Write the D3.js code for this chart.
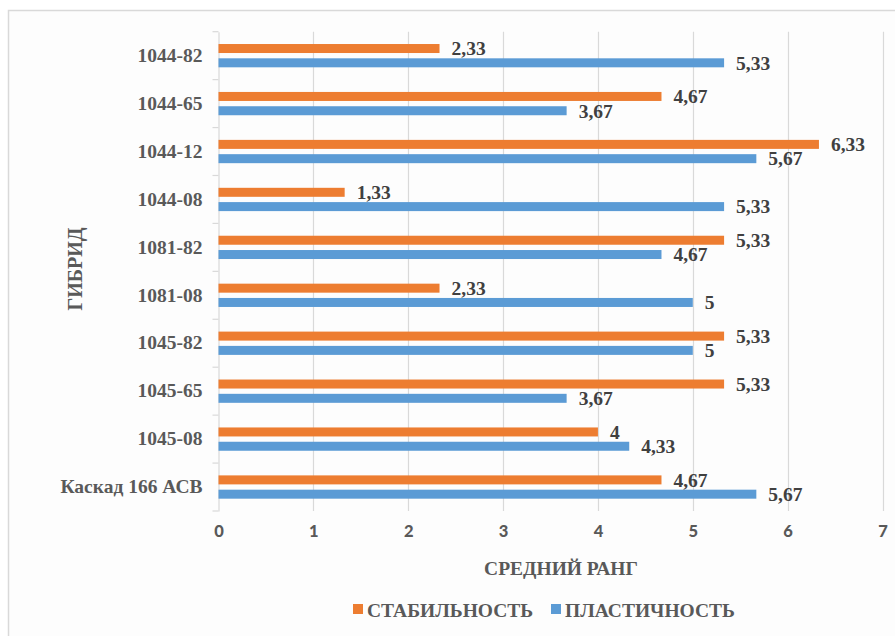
<!DOCTYPE html>
<html>
<head>
<meta charset="utf-8">
<script src="https://cdn.jsdelivr.net/npm/d3@7"></script>
<style>
  html, body { margin: 0; padding: 0; background: #ffffff; }
  svg { display: block; }
</style>
</head>
<body>
<svg id="chart" width="895" height="636"></svg>
<script>
// Hybrids, listed from top to bottom
const hybrids = ["1044-82", "1044-65", "1044-12", "1044-08", "1081-82", "1081-08", "1045-82", "1045-65", "1045-08", "Каскад 166 АСВ"];
// Mean rank per hybrid
const stability  = [2.33, 4.67, 6.33, 1.33, 5.33, 2.33, 5.33, 5.33, 4, 4.67];
const plasticity = [5.33, 3.67, 5.67, 5.33, 4.67, 5, 5, 3.67, 4.33, 5.67];
const seriesNames = ["СТАБИЛЬНОСТЬ", "ПЛАСТИЧНОСТЬ"];
const xTicks = [0, 1, 2, 3, 4, 5, 6, 7];

const colors = { "СТАБИЛЬНОСТЬ": "#ED7D31", "ПЛАСТИЧНОСТЬ": "#5B9BD5" };
const serif = "'Liberation Serif', 'Times New Roman', serif";
const sans = "Lato, 'Open Sans', sans-serif";

const rows = hybrids.map((h, i) => ({ hybrid: h, values: [
  { key: seriesNames[0], value: stability[i] },
  { key: seriesNames[1], value: plasticity[i] }
]}));

const svg = d3.select("#chart");

// chart frame
svg.append("rect")
  .attr("x", 8.5).attr("y", 10.5)
  .attr("width", 900).attr("height", 640)
  .attr("fill", "#fdfdfd")
  .attr("stroke", "#d9d9d9")
  .attr("stroke-width", 1.5);

const plot = { left: 218.5, right: 882.5, top: 31.7, bottom: 511 };

const x = d3.scaleLinear().domain([0, 7]).range([plot.left, plot.right]);
const y = d3.scaleBand().domain(hybrids).range([plot.top, plot.bottom]).padding(0);
const bw = y.bandwidth();
const ySeries = d3.scaleBand().domain(seriesNames)
  .range([bw * 0.257, bw * 0.743]).paddingInner(0.37).paddingOuter(0);

// vertical gridlines
svg.append("g")
  .selectAll("line")
  .data(xTicks.filter(t => t > 0))
  .join("line")
  .attr("x1", d => Math.round(x(d)) + 0.5)
  .attr("x2", d => Math.round(x(d)) + 0.5)
  .attr("y1", plot.top).attr("y2", plot.bottom)
  .attr("stroke", "#d9d9d9").attr("stroke-width", 1.2);

// x axis tick labels
const xAxis = d3.axisBottom(x).tickValues(xTicks).tickSize(0).tickPadding(14).tickFormat(d3.format("d"));
const gx = svg.append("g").attr("transform", `translate(0,${plot.bottom})`).call(xAxis);
gx.select(".domain").remove();
gx.selectAll("text")
  .attr("font-family", sans)
  .attr("font-weight", 900)
  .attr("font-size", 16.5)
  .attr("fill", "#595959");

// category axis
const yAxis = d3.axisLeft(y).tickSize(0).tickPadding(16);
const gy = svg.append("g").attr("transform", `translate(${plot.left},0)`).call(yAxis);
gy.select(".domain").attr("stroke", "#d9d9d9").attr("stroke-width", 1.2);
gy.selectAll("text")
  .attr("font-family", serif)
  .attr("font-weight", "bold")
  .attr("font-size", 19.5)
  .attr("fill", "#595959");

// category boundary ticks
const boundaries = hybrids.map(h => y(h)).concat([plot.bottom]);
svg.append("g")
  .selectAll("line")
  .data(boundaries)
  .join("line")
  .attr("x1", plot.left - 6).attr("x2", plot.left)
  .attr("y1", d => d).attr("y2", d => d)
  .attr("stroke", "#d9d9d9").attr("stroke-width", 1.2);

// bars and value labels
const fmt = v => (Number.isInteger(v) ? String(v) : v.toFixed(2).replace(".", ","));
const groups = svg.append("g")
  .selectAll("g")
  .data(rows)
  .join("g")
  .attr("transform", d => `translate(0,${y(d.hybrid)})`);

groups.selectAll("rect")
  .data(d => d.values)
  .join("rect")
  .attr("x", x(0))
  .attr("y", d => ySeries(d.key))
  .attr("width", d => x(d.value) - x(0))
  .attr("height", ySeries.bandwidth())
  .attr("fill", d => colors[d.key]);

groups.selectAll("text")
  .data(d => d.values)
  .join("text")
  .attr("x", d => x(d.value) + 12)
  .attr("y", d => ySeries(d.key) + ySeries.bandwidth() / 2)
  .attr("dy", "0.35em")
  .attr("font-family", serif)
  .attr("font-weight", "bold")
  .attr("font-size", 19.5)
  .attr("fill", "#404040")
  .text(d => fmt(d.value));

// axis titles
svg.append("text")
  .attr("x", 561).attr("y", 574.5)
  .attr("text-anchor", "middle")
  .attr("font-family", serif).attr("font-weight", "bold").attr("font-size", 19.5)
  .attr("fill", "#595959")
  .text("СРЕДНИЙ РАНГ");

svg.append("text")
  .attr("transform", `translate(82,269) rotate(-90)`)
  .attr("text-anchor", "middle")
  .attr("font-family", serif).attr("font-weight", "bold").attr("font-size", 20)
  .attr("fill", "#595959")
  .text("ГИБРИД");

// legend
const legendX = [353, 551];
const legend = svg.append("g")
  .selectAll("g")
  .data(seriesNames)
  .join("g")
  .attr("transform", (d, i) => `translate(${legendX[i]},604)`);
legend.append("rect")
  .attr("width", 10).attr("height", 10)
  .attr("fill", d => colors[d]);
legend.append("text")
  .attr("x", 14).attr("y", 12.5)
  .attr("font-family", serif).attr("font-weight", "bold").attr("font-size", 19.5)
  .attr("fill", "#595959")
  .text(d => d);
</script>
</body>
</html>
